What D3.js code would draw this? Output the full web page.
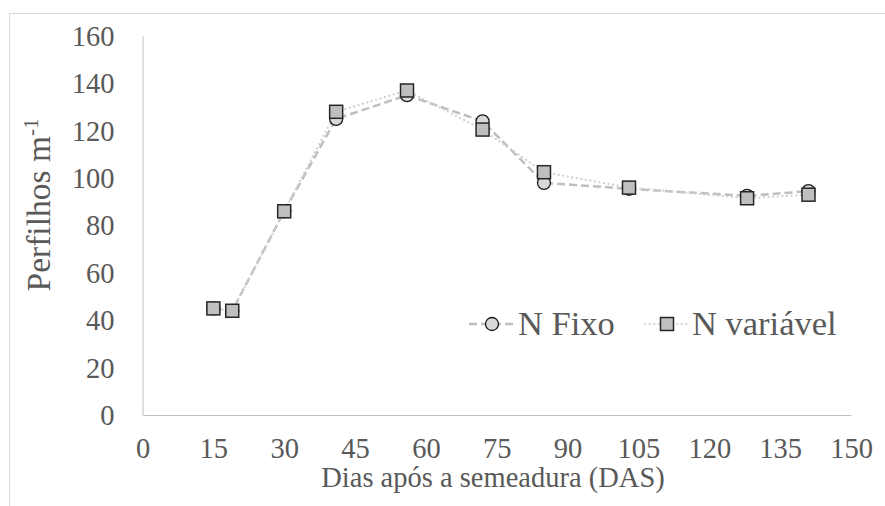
<!DOCTYPE html>
<html>
<head>
<meta charset="utf-8">
<script src="https://cdn.jsdelivr.net/npm/d3@7/dist/d3.min.js"></script>
<style>
  html, body { margin: 0; padding: 0; background: #fff; }
  svg { display: block; }
</style>
</head>
<body>
<svg id="chart" width="885" height="506"></svg>
<script>
// Days after sowing and tiller counts per metre for the two N managements
const days = [15, 19, 30, 41, 56, 72, 85, 103, 128, 141];
const nFixo = [45, 44, 86, 125, 135, 124, 98, 95.5, 92.5, 94.5];
const nVariavel = [45, 44, 86, 128, 137, 120.5, 102.5, 96, 91.5, 93];
const xTicks = [0, 15, 30, 45, 60, 75, 90, 105, 120, 135, 150];
const yTicks = [0, 20, 40, 60, 80, 100, 120, 140, 160];
const seriesNames = ["N Fixo", "N variável"];

const FONT = "'Times New Roman', 'Liberation Serif', serif";
const TEXT_COLOR = "#595959";

const svg = d3.select("#chart");

// chart frame
svg.append("rect")
  .attr("x", 9.5).attr("y", 13.5)
  .attr("width", 885).attr("height", 510)
  .attr("fill", "#fff").attr("stroke", "#d9d9d9").attr("stroke-width", 1);

const x = d3.scaleLinear().domain([0, 150]).range([142.5, 851]);
const y = d3.scaleLinear().domain([0, 160]).range([415, 36]);

// axes
const xAxis = svg.append("g")
  .attr("transform", `translate(0,${y(0)})`)
  .call(d3.axisBottom(x).tickValues(xTicks).tickSize(0).tickPadding(0));
const yAxis = svg.append("g")
  .attr("transform", `translate(${x(0)},0)`)
  .call(d3.axisLeft(y).tickValues(yTicks).tickSize(0).tickPadding(28));

[xAxis, yAxis].forEach(g => {
  g.attr("font-family", null).attr("font-size", null);
  g.style("font-family", FONT).style("font-size", "28.5px");
  g.select(".domain").attr("stroke", "#bfbfbf").attr("stroke-width", 1);
  g.selectAll("text").attr("fill", TEXT_COLOR);
});
xAxis.selectAll("text").attr("dy", null).attr("y", 43);
yAxis.selectAll("text").attr("dy", "0.33em");

// axis titles
svg.append("text")
  .attr("x", 493).attr("y", 487)
  .attr("text-anchor", "middle")
  .style("font-family", FONT).style("font-size", "28.5px").attr("fill", TEXT_COLOR)
  .text("Dias após a semeadura (DAS)");

const yTitle = svg.append("text")
  .attr("transform", "translate(50,205) rotate(-90)")
  .attr("text-anchor", "middle")
  .style("font-family", FONT).style("font-size", "33.5px").attr("fill", TEXT_COLOR);
yTitle.append("tspan").text("Perfilhos m");
yTitle.append("tspan").style("font-size", "21px").attr("dy", -12).text("-1");

const line = d3.line().x(d => x(d[0])).y(d => y(d[1]));
const fixoPts = days.map((d, i) => [d, nFixo[i]]);
const varPts = days.map((d, i) => [d, nVariavel[i]]);

// series lines
svg.append("path").datum(fixoPts)
  .attr("d", line).attr("fill", "none")
  .attr("stroke", "#bfbfbf").attr("stroke-width", 2.5)
  .attr("stroke-dasharray", "8,4");
svg.append("path").datum(varPts)
  .attr("d", line).attr("fill", "none")
  .attr("stroke", "#d0d0d0").attr("stroke-width", 2.2)
  .attr("stroke-linecap", "round")
  .attr("stroke-dasharray", "0.1,4.5");

// markers
svg.append("g").selectAll("circle").data(fixoPts).join("circle")
  .attr("cx", d => x(d[0])).attr("cy", d => y(d[1])).attr("r", 6.5)
  .attr("fill", "#d9d9d9").attr("stroke", "#1a1a1a").attr("stroke-width", 1.3);
svg.append("g").selectAll("rect").data(varPts).join("rect")
  .attr("x", d => x(d[0]) - 6.5).attr("y", d => y(d[1]) - 6.5)
  .attr("width", 13).attr("height", 13)
  .attr("fill", "#bfbfbf").attr("stroke", "#262626").attr("stroke-width", 1.5);

// legend
const ly = 324;
const lg = svg.append("g").style("font-family", FONT).style("font-size", "34.5px").attr("fill", TEXT_COLOR);
lg.append("line").attr("x1", 469).attr("x2", 515).attr("y1", ly).attr("y2", ly)
  .attr("stroke", "#bfbfbf").attr("stroke-width", 2.5).attr("stroke-dasharray", "8,4");
lg.append("circle").attr("cx", 492).attr("cy", ly).attr("r", 6.5)
  .attr("fill", "#d9d9d9").attr("stroke", "#1a1a1a").attr("stroke-width", 1.3);
lg.append("text").attr("x", 518).attr("y", ly + 11).text(seriesNames[0]);

lg.append("line").attr("x1", 645).attr("x2", 690).attr("y1", ly).attr("y2", ly)
  .attr("stroke", "#d0d0d0").attr("stroke-width", 2.2)
  .attr("stroke-linecap", "round").attr("stroke-dasharray", "0.1,4.5");
lg.append("rect").attr("x", 667 - 6.5).attr("y", ly - 6.5).attr("width", 13).attr("height", 13)
  .attr("fill", "#bfbfbf").attr("stroke", "#262626").attr("stroke-width", 1.5);
lg.append("text").attr("x", 692).attr("y", ly + 11).text(seriesNames[1]);
</script>
</body>
</html>
